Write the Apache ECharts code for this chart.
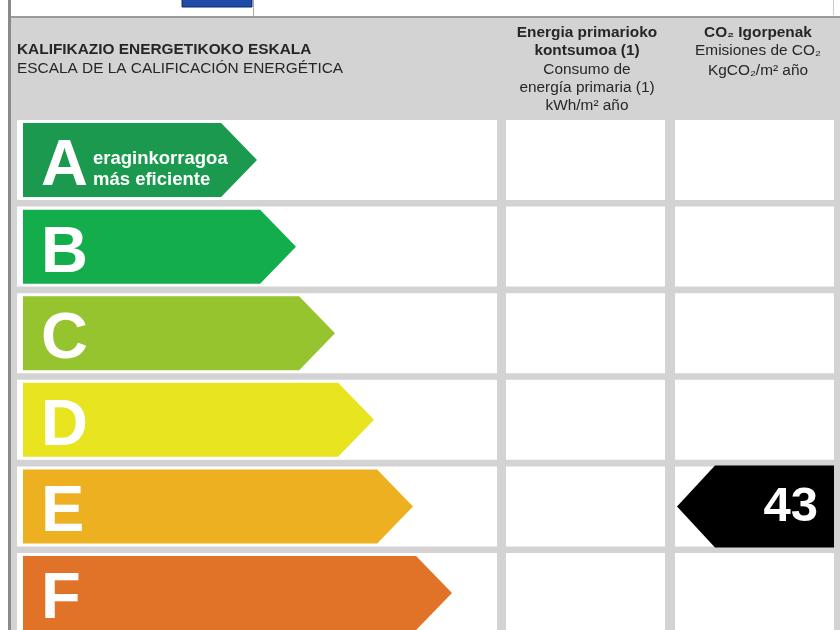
<!DOCTYPE html>
<html lang="es">
<head>
    <meta charset="UTF-8">
    <title>Kalifikazio energetikoa</title>
    <script src="https://cdn.jsdelivr.net/npm/echarts@6/dist/echarts.min.js"></script>
</head>
<body style="margin:0">
<div id="dom" style="width: 840px;height: 630px"></div>
<script>
    // rating scale
    var ratingClasses = ['A', 'B', 'C', 'D', 'E', 'F'];
    var arrowTips = [6, 7, 8, 9, 10, 11];
    var arrowColors = ['#1b9a4f', '#14ad4b', '#95c42e', '#e8e41f', '#ecb020', '#e07328'];
    var topSubtitle = ['eraginkorragoa', 'más eficiente'];
    // CO2 result (the energy column is empty in the picture)
    var co2Rating = 'E';
    var co2Value = 43;
    // header texts
    var headerLeft = ['KALIFIKAZIO ENERGETIKOKO ESKALA', 'ESCALA DE LA CALIFICACIÓN ENERGÉTICA'];
    var headerEnergy = ['Energia primarioko', 'kontsumoa (1)', 'Consumo de', 'energía primaria (1)', 'kWh/m² año'];
    var headerCo2 = ['CO₂ Igorpenak', 'Emisiones de CO₂', 'KgCO₂/m² año'];

    var FONT = '"Liberation Sans", Arial, sans-serif';
    var dom = document.getElementById("dom");
    var myCharts = echarts.init(dom);

    function renderCell(params, api) {
        var cs = params.coordSys;
        var c = api.coord([0, api.value(1)]);
        var band = api.size([0, 1])[1];
        return {
            type: 'rect',
            shape: {x: cs.x, y: c[1] - band / 2, width: cs.width, height: band * 0.924},
            style: {fill: '#ffffff'}
        };
    }

    function renderArrow(params, api) {
        var i = api.value(1);
        var tip = api.coord([api.value(0), i]);
        var start = api.coord([0, i]);
        var band = api.size([0, 1])[1];
        var head = api.size([0.92, 0])[0];
        var top = tip[1] - band / 2 + band * 0.035;
        var bottom = top + band * 0.855;
        var mid = (top + bottom) / 2;
        var children = [{
            type: 'polygon',
            shape: {points: [[start[0], top], [tip[0] - head, top], [tip[0], mid], [tip[0] - head, bottom], [start[0], bottom]]},
            style: {fill: arrowColors[i]}
        }, {
            type: 'text',
            x: start[0] + 18,
            y: mid + 7,
            style: {text: ratingClasses[i], fill: '#fff', font: 'bold 65px ' + FONT, align: 'left', verticalAlign: 'middle'}
        }];
        if (i === 0) {
            children.push({
                type: 'text',
                x: start[0] + 70,
                y: mid + 9,
                style: {text: topSubtitle.join('\n'), fill: '#fff', font: 'bold 18.5px ' + FONT, lineHeight: 21, align: 'left', verticalAlign: 'middle'}
            });
        }
        return {type: 'group', children: children};
    }

    function renderPointer(params, api) {
        var cs = params.coordSys;
        var c = api.coord([0, api.value(1)]);
        var band = api.size([0, 1])[1];
        var top = c[1] - band / 2 - 1;
        var bottom = top + band * 0.924 + 2;
        var mid = (top + bottom) / 2;
        var left = cs.x + 2, right = cs.x + cs.width;
        return {
            type: 'group',
            children: [{
                type: 'polygon',
                shape: {points: [[left, mid], [left + 38, top], [right, top], [right, bottom], [left + 38, bottom]]},
                style: {fill: '#000'}
            }, {
                type: 'text',
                x: right - 16,
                y: mid + 1,
                style: {text: String(api.value(2)), fill: '#fff', font: 'bold 49px ' + FONT, align: 'right', verticalAlign: 'middle'}
            }]
        };
    }

    function headerText(x, y, text, bold, align) {
        return {
            type: 'text', x: x, y: y, scaleX: 1.1,
            style: {text: text, fill: '#262626', font: (bold ? 'bold ' : '') + '14px ' + FONT, align: align, verticalAlign: 'middle'}
        };
    }

    var graphics = [
        {type: 'rect', shape: {x: 0, y: 0, width: 8, height: 630}, style: {fill: '#fff'}},
        {type: 'rect', shape: {x: 8, y: 0, width: 3, height: 630}, style: {fill: '#8a8a8a'}},
        {type: 'rect', shape: {x: 11, y: 0, width: 829, height: 16}, style: {fill: '#fff'}},
        {type: 'rect', shape: {x: 11, y: 16, width: 829, height: 2}, style: {fill: '#9a9a9a'}},
        {type: 'rect', shape: {x: 182, y: -2, width: 70, height: 9}, style: {fill: '#1f4aa8', stroke: '#0d2a6a', lineWidth: 1}},
        {type: 'line', shape: {x1: 253.5, y1: 0, x2: 253.5, y2: 17}, style: {stroke: '#aaa', lineWidth: 1}},
        {type: 'line', shape: {x1: 833.5, y1: 0, x2: 833.5, y2: 15}, style: {stroke: '#ccc', lineWidth: 1}}
    ];
    headerLeft.forEach(function (t, k) {
        graphics.push(headerText(17, 50.5 + k * 18.5, t, k === 0, 'left'));
    });
    headerEnergy.forEach(function (t, k) {
        graphics.push(headerText(587, 33 + k * 18.4, t, k < 2, 'center'));
    });
    headerCo2.forEach(function (t, k) {
        graphics.push(headerText(758, [33, 51.5, 71][k], t, k === 0, 'center'));
    });

    var rowData = ratingClasses.map(function (c, i) { return [0, i]; });
    // the F row runs past the bottom edge of the picture
    var grids = [
        {left: 17, top: 120, width: 480, height: 519.6, outerBoundsMode: 'none'},
        {left: 506, top: 120, width: 159, height: 519.6, outerBoundsMode: 'none'},
        {left: 675, top: 120, width: 159, height: 519.6, outerBoundsMode: 'none'}
    ];

    var option = {
        backgroundColor: '#d3d3d3',
        animation: false,
        grid: grids,
        xAxis: [
            {type: 'value', gridIndex: 0, min: -0.154, max: 12.154, show: false},
            {type: 'value', gridIndex: 1, min: 0, max: 1, show: false},
            {type: 'value', gridIndex: 2, min: 0, max: 1, show: false}
        ],
        yAxis: [0, 1, 2].map(function (g) {
            return {type: 'category', gridIndex: g, data: ratingClasses, inverse: true, show: false};
        }),
        series: [0, 1, 2].map(function (g) {
            return {type: 'custom', xAxisIndex: g, yAxisIndex: g, data: rowData, encode: {x: 0, y: 1}, renderItem: renderCell, silent: true};
        }).concat([
            {
                type: 'custom', xAxisIndex: 0, yAxisIndex: 0, encode: {x: 0, y: 1},
                data: ratingClasses.map(function (c, i) { return [arrowTips[i], i]; }),
                renderItem: renderArrow
            },
            {
                type: 'custom', xAxisIndex: 2, yAxisIndex: 2, encode: {x: 0, y: 1},
                data: [[0, ratingClasses.indexOf(co2Rating), co2Value]],
                renderItem: renderPointer
            }
        ]),
        graphic: graphics
    };
    myCharts.setOption(option);
</script>
</body>
</html>
